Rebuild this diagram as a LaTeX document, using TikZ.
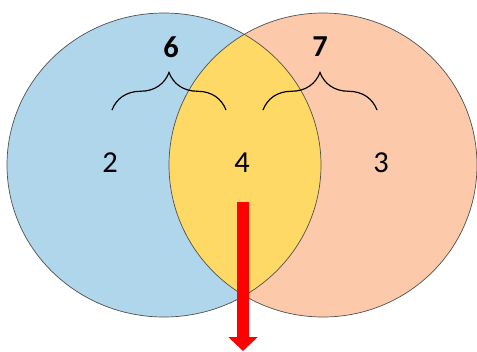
\documentclass[tikz,border=0pt]{standalone}
\usepackage{fontspec}
\setmainfont{Carlito}
\usetikzlibrary{decorations.pathreplacing,arrows.meta}
\definecolor{leftblue}{RGB}{176,214,236}
\definecolor{rightpeach}{RGB}{252,202,170}
\definecolor{lensyellow}{RGB}{255,217,102}
\definecolor{rimgray}{RGB}{80,80,80}
\begin{document}
\begin{tikzpicture}[x=0.03cm, y=-0.03cm, every node/.style={font=\fontsize{26}{26}\selectfont, inner sep=0pt}]
        \useasboundingbox (0,0) rectangle (477,351);
        % the two sets
        \fill[leftblue] (164,165) ellipse [x radius=157, y radius=152];
        \fill[rightpeach] (323,165) ellipse [x radius=154, y radius=152];
        \begin{scope}
            \clip (164,165) ellipse [x radius=157, y radius=152];
            \fill[lensyellow] (323,165) ellipse [x radius=154, y radius=152];
        \end{scope}
        \draw[rimgray, line width=0.6pt] (164,165) ellipse [x radius=157, y radius=152];
        \draw[rimgray, line width=0.6pt] (323,165) ellipse [x radius=154, y radius=152];
        \node (two) at (110,163) {2};
        \node (four) at (242,163) {4};
        \node (three) at (381,163) {3};
        \node[font=\fontsize{26}{26}\selectfont\bfseries] (six) at (171,47) {6};
        \node[font=\fontsize{26}{26}\selectfont\bfseries] (seven) at (320,47) {7};
        \draw[line width=1pt, decorate, decoration={brace, amplitude=32}] (112,110) -- (226,110);
        \draw[line width=1pt, decorate, decoration={brace, amplitude=32}] (263,110) -- (377,110);
        \coordinate (start) at (243,202);
        \coordinate (end) at (243,351);
        \draw[red, line width=0.36cm, -{Triangle[width=0.86cm, length=0.42cm]}] (start) -- (end);
    \end{tikzpicture}
\end{document}
